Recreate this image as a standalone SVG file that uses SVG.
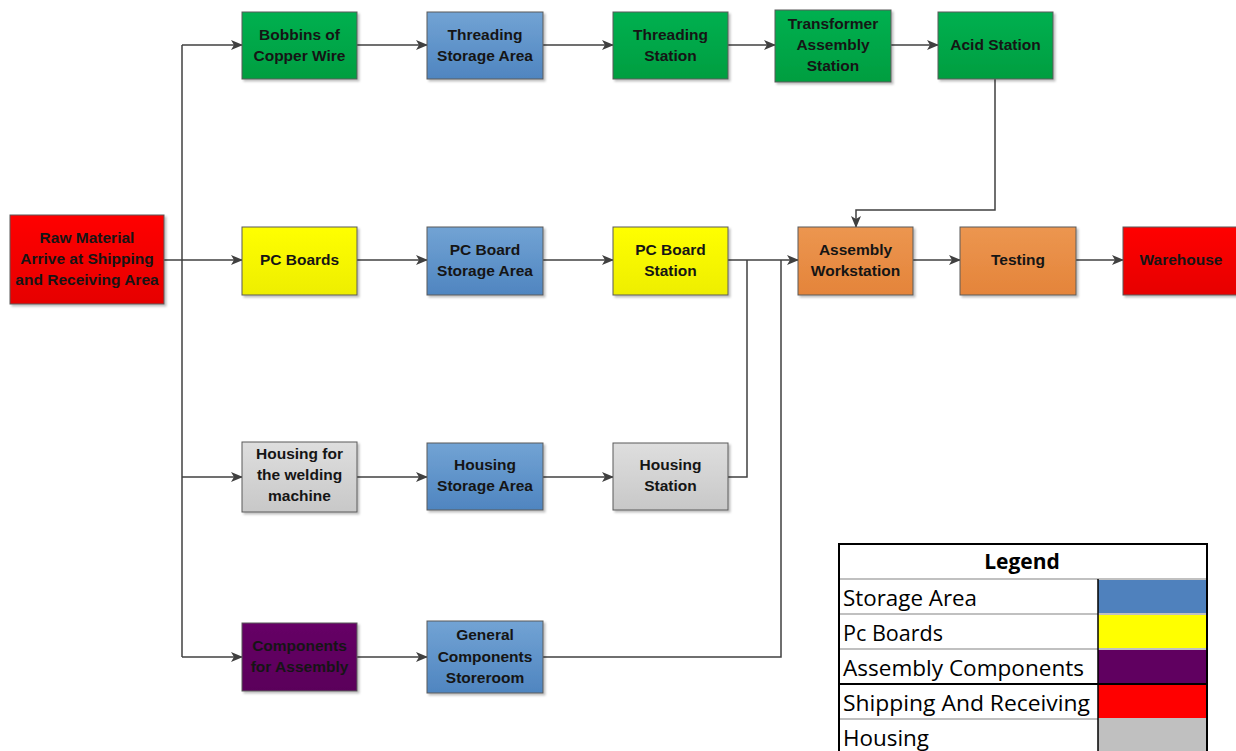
<svg xmlns="http://www.w3.org/2000/svg" width="1236" height="751" viewBox="0 0 1236 751">
<defs>
<linearGradient id="gRed" x1="0" y1="0" x2="0" y2="1"><stop offset="0" stop-color="#ff0000"/><stop offset="1" stop-color="#e60000"/></linearGradient>
<linearGradient id="gGreen" x1="0" y1="0" x2="0" y2="1"><stop offset="0" stop-color="#00b050"/><stop offset="1" stop-color="#009e40"/></linearGradient>
<linearGradient id="gBlue" x1="0" y1="0" x2="0" y2="1"><stop offset="0" stop-color="#72a3d4"/><stop offset="1" stop-color="#4f85c0"/></linearGradient>
<linearGradient id="gYellow" x1="0" y1="0" x2="0" y2="1"><stop offset="0" stop-color="#ffff00"/><stop offset="1" stop-color="#eeee00"/></linearGradient>
<linearGradient id="gGray" x1="0" y1="0" x2="0" y2="1"><stop offset="0" stop-color="#dedede"/><stop offset="1" stop-color="#c8c8c8"/></linearGradient>
<linearGradient id="gPurple" x1="0" y1="0" x2="0" y2="1"><stop offset="0" stop-color="#660066"/><stop offset="1" stop-color="#5a005a"/></linearGradient>
<linearGradient id="gOrange" x1="0" y1="0" x2="0" y2="1"><stop offset="0" stop-color="#ec9650"/><stop offset="1" stop-color="#e4843a"/></linearGradient>
<marker id="arr" markerWidth="12" markerHeight="10" refX="11" refY="5" orient="auto" markerUnits="userSpaceOnUse"><path d="M0,0 L12,5 L0,10 L3,5 Z" fill="#404040"/></marker>
<filter id="sh" x="-10%" y="-10%" width="130%" height="130%"><feDropShadow dx="2" dy="2" stdDeviation="1.2" flood-color="#000" flood-opacity="0.25"/></filter>
</defs>
<style>
.n{stroke:#5a5a5a;stroke-width:1;filter:url(#sh)}
.t{font-family:"Liberation Sans",Arial,sans-serif;font-weight:bold;font-size:15.5px;fill:#151515;text-anchor:middle}
.c{fill:none;stroke:#404040;stroke-width:1.5}
.a{marker-end:url(#arr)}
.lg{font-family:"Open Sans","Liberation Sans",sans-serif;font-size:21px;fill:#000}
</style>
<rect width="1236" height="751" fill="#fff"/>

<g id="connectors">
<path class="c" d="M164,260 H182"/>
<path class="c" d="M182,45 V657"/>
<path class="c a" d="M182,45 H242"/>
<path class="c a" d="M182,260 H242"/>
<path class="c a" d="M182,477 H242"/>
<path class="c a" d="M182,657 H242"/>
<path class="c a" d="M357,45 H427"/>
<path class="c a" d="M543,45 H613"/>
<path class="c a" d="M728,45 H775"/>
<path class="c a" d="M891,45 H938"/>
<path class="c a" d="M995,79 V210 H856 V227"/>
<path class="c a" d="M357,260 H427"/>
<path class="c a" d="M543,260 H613"/>
<path class="c a" d="M728,260 H798"/>
<path class="c a" d="M357,477 H427"/>
<path class="c a" d="M543,477 H613"/>
<path class="c" d="M728,477 H747 V260"/>
<path class="c a" d="M357,657 H427"/>
<path class="c" d="M543,657 H781 V260"/>
<path class="c a" d="M913,260 H960"/>
<path class="c a" d="M1076,260 H1123"/>
</g>

<g id="raw"><rect class="n" x="10" y="215" width="154" height="89" fill="url(#gRed)"/>
<text class="t" x="87" y="243">Raw Material</text><text class="t" x="87" y="264">Arrive at Shipping</text><text class="t" x="87" y="285">and Receiving Area</text></g>

<g id="bobbins"><rect class="n" x="242" y="12" width="115" height="67" fill="url(#gGreen)"/>
<text class="t" x="299.5" y="40">Bobbins of</text><text class="t" x="299.5" y="61">Copper Wire</text></g>
<g id="threadStorage"><rect class="n" x="427" y="12" width="116" height="67" fill="url(#gBlue)"/>
<text class="t" x="485" y="40">Threading</text><text class="t" x="485" y="61">Storage Area</text></g>
<g id="threadStation"><rect class="n" x="613" y="12" width="115" height="67" fill="url(#gGreen)"/>
<text class="t" x="670.5" y="40">Threading</text><text class="t" x="670.5" y="61">Station</text></g>
<g id="transformer"><rect class="n" x="775" y="10" width="116" height="72" fill="url(#gGreen)"/>
<text class="t" x="833" y="29">Transformer</text><text class="t" x="833" y="50">Assembly</text><text class="t" x="833" y="71">Station</text></g>
<g id="acid"><rect class="n" x="938" y="12" width="115" height="67" fill="url(#gGreen)"/>
<text class="t" x="995.5" y="50">Acid Station</text></g>

<g id="pcBoards"><rect class="n" x="242" y="227" width="115" height="68" fill="url(#gYellow)"/>
<text class="t" x="299.5" y="265">PC Boards</text></g>
<g id="pcStorage"><rect class="n" x="427" y="227" width="116" height="68" fill="url(#gBlue)"/>
<text class="t" x="485" y="255">PC Board</text><text class="t" x="485" y="276">Storage Area</text></g>
<g id="pcStation"><rect class="n" x="613" y="227" width="115" height="68" fill="url(#gYellow)"/>
<text class="t" x="670.5" y="255">PC Board</text><text class="t" x="670.5" y="276">Station</text></g>
<g id="assembly"><rect class="n" x="798" y="227" width="115" height="68" fill="url(#gOrange)"/>
<text class="t" x="855.5" y="255">Assembly</text><text class="t" x="855.5" y="276">Workstation</text></g>
<g id="testing"><rect class="n" x="960" y="227" width="116" height="68" fill="url(#gOrange)"/>
<text class="t" x="1018" y="265">Testing</text></g>
<g id="warehouse"><rect class="n" x="1123" y="227" width="116" height="68" fill="url(#gRed)"/>
<text class="t" x="1181" y="265">Warehouse</text></g>

<g id="housing"><rect class="n" x="242" y="442" width="115" height="70" fill="url(#gGray)"/>
<text class="t" x="299.5" y="459">Housing for</text><text class="t" x="299.5" y="480">the welding</text><text class="t" x="299.5" y="501">machine</text></g>
<g id="housingStorage"><rect class="n" x="427" y="443" width="116" height="67" fill="url(#gBlue)"/>
<text class="t" x="485" y="470">Housing</text><text class="t" x="485" y="491">Storage Area</text></g>
<g id="housingStation"><rect class="n" x="613" y="443" width="115" height="67" fill="url(#gGray)"/>
<text class="t" x="670.5" y="470">Housing</text><text class="t" x="670.5" y="491">Station</text></g>

<g id="components"><rect class="n" x="242" y="623" width="115" height="68" fill="url(#gPurple)"/>
<text class="t" x="299.5" y="651">Components</text><text class="t" x="299.5" y="672">for Assembly</text></g>
<g id="general"><rect class="n" x="427" y="621" width="116" height="72" fill="url(#gBlue)"/>
<text class="t" x="485" y="640">General</text><text class="t" x="485" y="662">Components</text><text class="t" x="485" y="683">Storeroom</text></g>

<g id="legend">
<rect x="839" y="544" width="368" height="212" fill="#fff" stroke="#000" stroke-width="2"/>
<rect x="1098" y="579" width="109" height="35" fill="#4f81bd"/>
<rect x="1098" y="614" width="109" height="35" fill="#ffff00"/>
<rect x="1098" y="649" width="109" height="35" fill="#600060"/>
<rect x="1098" y="684" width="109" height="35" fill="#ff0000"/>
<rect x="1098" y="719" width="109" height="35" fill="#c0c0c0"/>
<path d="M839,579 H1207 M839,614 H1207 M839,649 H1207 M839,719 H1207" stroke="#c0c0c0" stroke-width="2"/>
<path d="M839,684 H1207" stroke="#000" stroke-width="2"/>
<path d="M1098,579 V751" stroke="#000" stroke-width="1.5"/>
<path d="M839,544 V751 M1207,544 V751 M839,544 H1207" stroke="#000" stroke-width="2" fill="none"/>
<text class="lg" x="1022" y="569" text-anchor="middle" font-weight="bold" font-size="20">Legend</text>
<text class="lg" x="843" y="606" textLength="134" lengthAdjust="spacingAndGlyphs">Storage Area</text>
<text class="lg" x="843" y="641" textLength="100" lengthAdjust="spacingAndGlyphs">Pc Boards</text>
<text class="lg" x="843" y="676" textLength="241" lengthAdjust="spacingAndGlyphs">Assembly Components</text>
<text class="lg" x="843" y="711" textLength="247" lengthAdjust="spacingAndGlyphs">Shipping And Receiving</text>
<text class="lg" x="843" y="746" textLength="86" lengthAdjust="spacingAndGlyphs">Housing</text>
</g>
</svg>
